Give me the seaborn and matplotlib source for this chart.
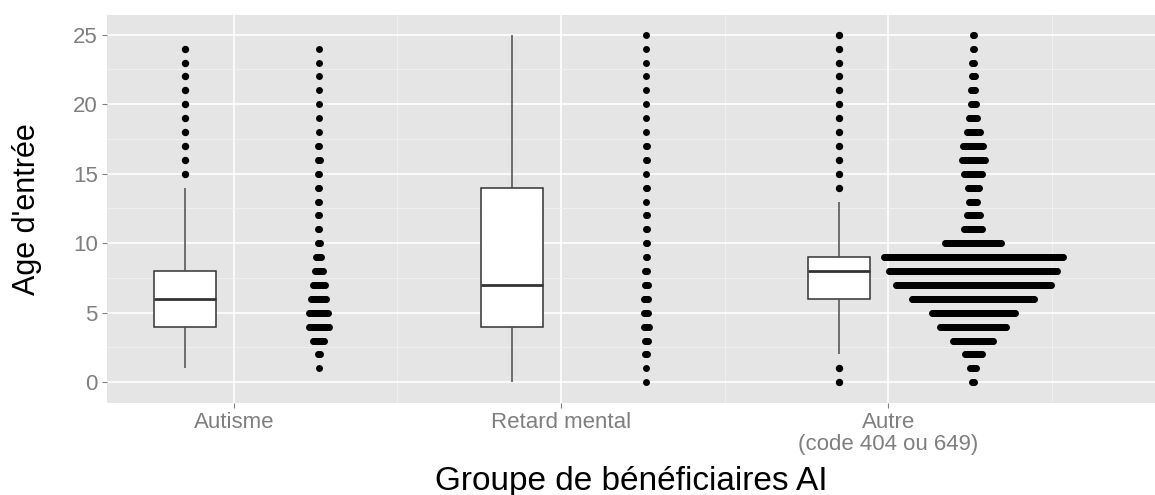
import numpy as np
import pandas as pd
import matplotlib
matplotlib.use('Agg')
import matplotlib.pyplot as plt
import seaborn as sns

# effectifs par âge d'entrée (0 à 25 ans)
ages = list(range(26))
autisme = [0, 1, 3, 12, 21, 20, 16, 13, 9, 6, 3, 2, 2, 2, 2, 2, 3, 2, 1, 1, 1, 1, 1, 1, 1, 0]
retard = [1, 1, 3, 4, 6, 5, 5, 4, 3, 2, 2, 2, 2, 1, 2, 1, 2, 2, 1, 1, 1, 1, 1, 1, 1, 1]
autre = [3, 7, 18, 41, 67, 84, 123, 156, 169, 180, 57, 19, 14, 9, 12, 19, 24, 21, 14, 9, 6, 5, 4, 3, 2, 2]

groupes = ['Autisme', 'Retard mental', 'Autre\n(code 404 ou 649)']
yticks = [0, 5, 10, 15, 20, 25]

sns.set_theme(style='darkgrid', rc={'axes.facecolor': '#E5E5E5', 'grid.color': 'white'})
plt.rcParams['font.family'] = ['Liberation Sans', 'DejaVu Sans']

pas = 1 / 327.3  # écart horizontal entre deux points d'une même rangée

box_rows = []
dot_rows = []
for g, counts in enumerate([autisme, retard, autre], start=1):
    for a, n in zip(ages, counts):
        box_rows += [(g - 0.15, a)] * n
        for i in range(n):
            dot_rows.append((g + 0.26 + (i - (n - 1) / 2) * pas, a))

df_box = pd.DataFrame(box_rows, columns=['x', 'age'])
df_dots = pd.DataFrame(dot_rows, columns=['x', 'age'])

fig = plt.figure(figsize=(11.55, 4.95), dpi=100)
ax = fig.add_axes([0.0926, 0.1865, 0.9074, 0.7838])

sns.boxplot(data=df_box, x='x', y='age', native_scale=True, orient='v', width=0.188,
            color='white', linecolor='#333333', linewidth=1.1, fliersize=4.3,
            flierprops=dict(marker='o', markerfacecolor='black', markeredgecolor='black'),
            medianprops=dict(linewidth=2.0, color='#333333'),
            whiskerprops=dict(color='#4D4D4D'),
            capprops=dict(visible=False), ax=ax)

# un seul point par valeur aberrante (sinon les cercles superposés s'épaississent)
for line in ax.lines:
    if line.get_marker() == 'o':
        xy = np.unique(np.column_stack(line.get_data()), axis=0)
        line.set_data(xy[:, 0], xy[:, 1])

sns.scatterplot(data=df_dots, x='x', y='age', color='black', s=25, linewidth=0,
                legend=False, ax=ax)

ax.set_xlim(0.612, 3.816)
ax.set_ylim(-1.47, 26.44)
ax.set_xticks([1, 2, 3])
ax.set_xticklabels(groupes)
ax.set_yticks(yticks)
ax.set_xticks([1.5, 2.5, 3.5], minor=True)
ax.set_yticks([2.5, 7.5, 12.5, 17.5, 22.5], minor=True)
ax.grid(which='major', color='white', linewidth=1.2)
ax.grid(which='minor', color='#F2F2F2', linewidth=0.6)
ax.tick_params(which='major', bottom=True, left=True, length=3.6, width=0.8,
               color='#7F7F7F', labelsize=16, labelcolor='#7F7F7F', pad=3)
ax.tick_params(which='minor', length=0)
for lbl in ax.get_xticklabels():
    lbl.set_linespacing(1.05)
for s in ax.spines.values():
    s.set_visible(False)

ax.set_xlabel('Groupe de bénéficiaires AI', fontsize=24, color='black', labelpad=8)
ax.set_ylabel("Age d'entrée", fontsize=22, color='black', labelpad=22)

fig.savefig('out.png', dpi=100)
